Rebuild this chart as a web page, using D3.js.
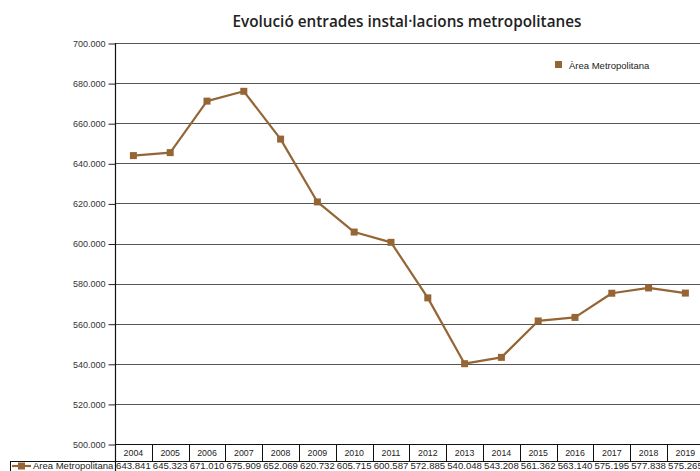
<!DOCTYPE html>
<html>
<head>
<meta charset="utf-8">
<script src="https://cdn.jsdelivr.net/npm/d3@7/dist/d3.min.js"></script>
<style>
  html, body { margin: 0; padding: 0; background: #fff; }
  svg { display: block; }
  text { font-family: "Liberation Sans", Arial, sans-serif; fill: #222; }
</style>
</head>
<body>
<svg id="chart" width="700" height="471"></svg>
<script>
// Entrades anuals a les instal·lacions metropolitanes
const years = ["2004","2005","2006","2007","2008","2009","2010","2011","2012","2013","2014","2015","2016","2017","2018","2019"];
const entrades = [643841, 645323, 671010, 675909, 652069, 620732, 605715, 600587, 572885, 540048, 543208, 561362, 563140, 575195, 577838, 575265];
const yTicks = [500000, 520000, 540000, 560000, 580000, 600000, 620000, 640000, 660000, 680000, 700000];
const seriesName = "Àrea Metropolitana";
const title = "Evolució entrades instal·lacions metropolitanes";

const W = 700, H = 471;
const plotLeft = 115, plotRight = 703.8, plotTop = 43, plotBottom = 444;
const color = "#956535";

const fmt = v => d3.format(",.0f")(v).replace(/,/g, ".");
const fmtVal = v => (v / 1000).toFixed(3);

const svg = d3.select("#chart");

const x = d3.scaleBand().domain(years).range([plotLeft, plotRight]).padding(0);
const y = d3.scaleLinear().domain([500000, 700000]).range([plotBottom, plotTop]);

// Title
svg.append("text")
  .attr("x", 407).attr("y", 27)
  .attr("text-anchor", "middle")
  .style("font-family", '"Open Sans", sans-serif')
  .style("font-size", "15.3px").style("font-weight", "600")
  .style("fill", "#222")
  .text(title);

// Horizontal gridlines
svg.append("g").selectAll("line")
  .data(yTicks.filter(t => t > 500000))
  .join("line")
  .attr("x1", plotLeft).attr("x2", W)
  .attr("y1", d => Math.round(y(d)) + 0.5).attr("y2", d => Math.round(y(d)) + 0.5)
  .attr("stroke", "#555").attr("stroke-width", 1);

// Y axis
const yAxis = d3.axisLeft(y).tickValues(yTicks).tickFormat(fmt).tickSize(7).tickPadding(3);
const gy = svg.append("g").attr("transform", `translate(${plotLeft + 0.5},0.5)`).call(yAxis);
gy.select(".domain").remove();
gy.selectAll(".tick line").attr("stroke", "#222");
gy.selectAll(".tick text").style("font-size", "9px").style("fill", "#333")
  .style("font-family", '"Liberation Sans", Arial, sans-serif');
svg.append("line")
  .attr("x1", plotLeft + 0.5).attr("x2", plotLeft + 0.5)
  .attr("y1", plotTop).attr("y2", H)
  .attr("stroke", "#111").attr("stroke-width", 1.2);

// X axis line (top of the data table)
svg.append("line")
  .attr("x1", plotLeft).attr("x2", W)
  .attr("y1", plotBottom + 0.5).attr("y2", plotBottom + 0.5)
  .attr("stroke", "#111").attr("stroke-width", 1);

// Data table: header row with years, value row below
const rowTop = plotBottom, rowMid = 461;
const table = svg.append("g");
table.selectAll("line.sep")
  .data(years.slice(1))
  .join("line")
  .attr("class", "sep")
  .attr("x1", d => Math.round(x(d)) + 0.5).attr("x2", d => Math.round(x(d)) + 0.5)
  .attr("y1", rowTop).attr("y2", rowMid)
  .attr("stroke", "#111");
table.append("line")
  .attr("x1", 10).attr("x2", W)
  .attr("y1", rowMid + 0.5).attr("y2", rowMid + 0.5)
  .attr("stroke", "#111");
table.append("line")
  .attr("x1", 10.5).attr("x2", 10.5)
  .attr("y1", rowMid).attr("y2", H)
  .attr("stroke", "#111");
table.selectAll("text.year")
  .data(years)
  .join("text")
  .attr("class", "year")
  .attr("x", d => x(d) + x.bandwidth() / 2)
  .attr("y", 456)
  .attr("text-anchor", "middle")
  .style("font-size", "8.8px")
  .text(d => d);
table.selectAll("text.val")
  .data(entrades)
  .join("text")
  .attr("class", "val")
  .attr("x", (d, i) => x(years[i]) + x.bandwidth() / 2)
  .attr("y", 469)
  .attr("text-anchor", "middle")
  .style("font-size", "9.6px")
  .text(d => fmtVal(d));

// Legend key in table row
table.append("line")
  .attr("x1", 12).attr("x2", 31).attr("y1", 466).attr("y2", 466)
  .attr("stroke", color).attr("stroke-width", 2.2);
table.append("rect")
  .attr("x", 18).attr("y", 462.5).attr("width", 7).attr("height", 7)
  .attr("fill", color);
table.append("text")
  .attr("x", 33).attr("y", 469)
  .style("font-size", "9.5px")
  .text(seriesName);

// Line series
const line = d3.line()
  .x((d, i) => x(years[i]) + x.bandwidth() / 2)
  .y(d => y(d));
svg.append("path")
  .datum(entrades)
  .attr("d", line)
  .attr("fill", "none")
  .attr("stroke", color)
  .attr("stroke-width", 2.2)
  .attr("stroke-linejoin", "round");
svg.append("g").selectAll("rect")
  .data(entrades)
  .join("rect")
  .attr("x", (d, i) => x(years[i]) + x.bandwidth() / 2 - 3.5)
  .attr("y", d => y(d) - 3.5)
  .attr("width", 7).attr("height", 7)
  .attr("fill", color);

// Legend
const lg = svg.append("g").attr("transform", "translate(555,61)");
lg.append("rect").attr("width", 7).attr("height", 7).attr("fill", color);
lg.append("text").attr("x", 14).attr("y", 7.5).style("font-size", "9.5px").text(seriesName);
</script>
</body>
</html>
